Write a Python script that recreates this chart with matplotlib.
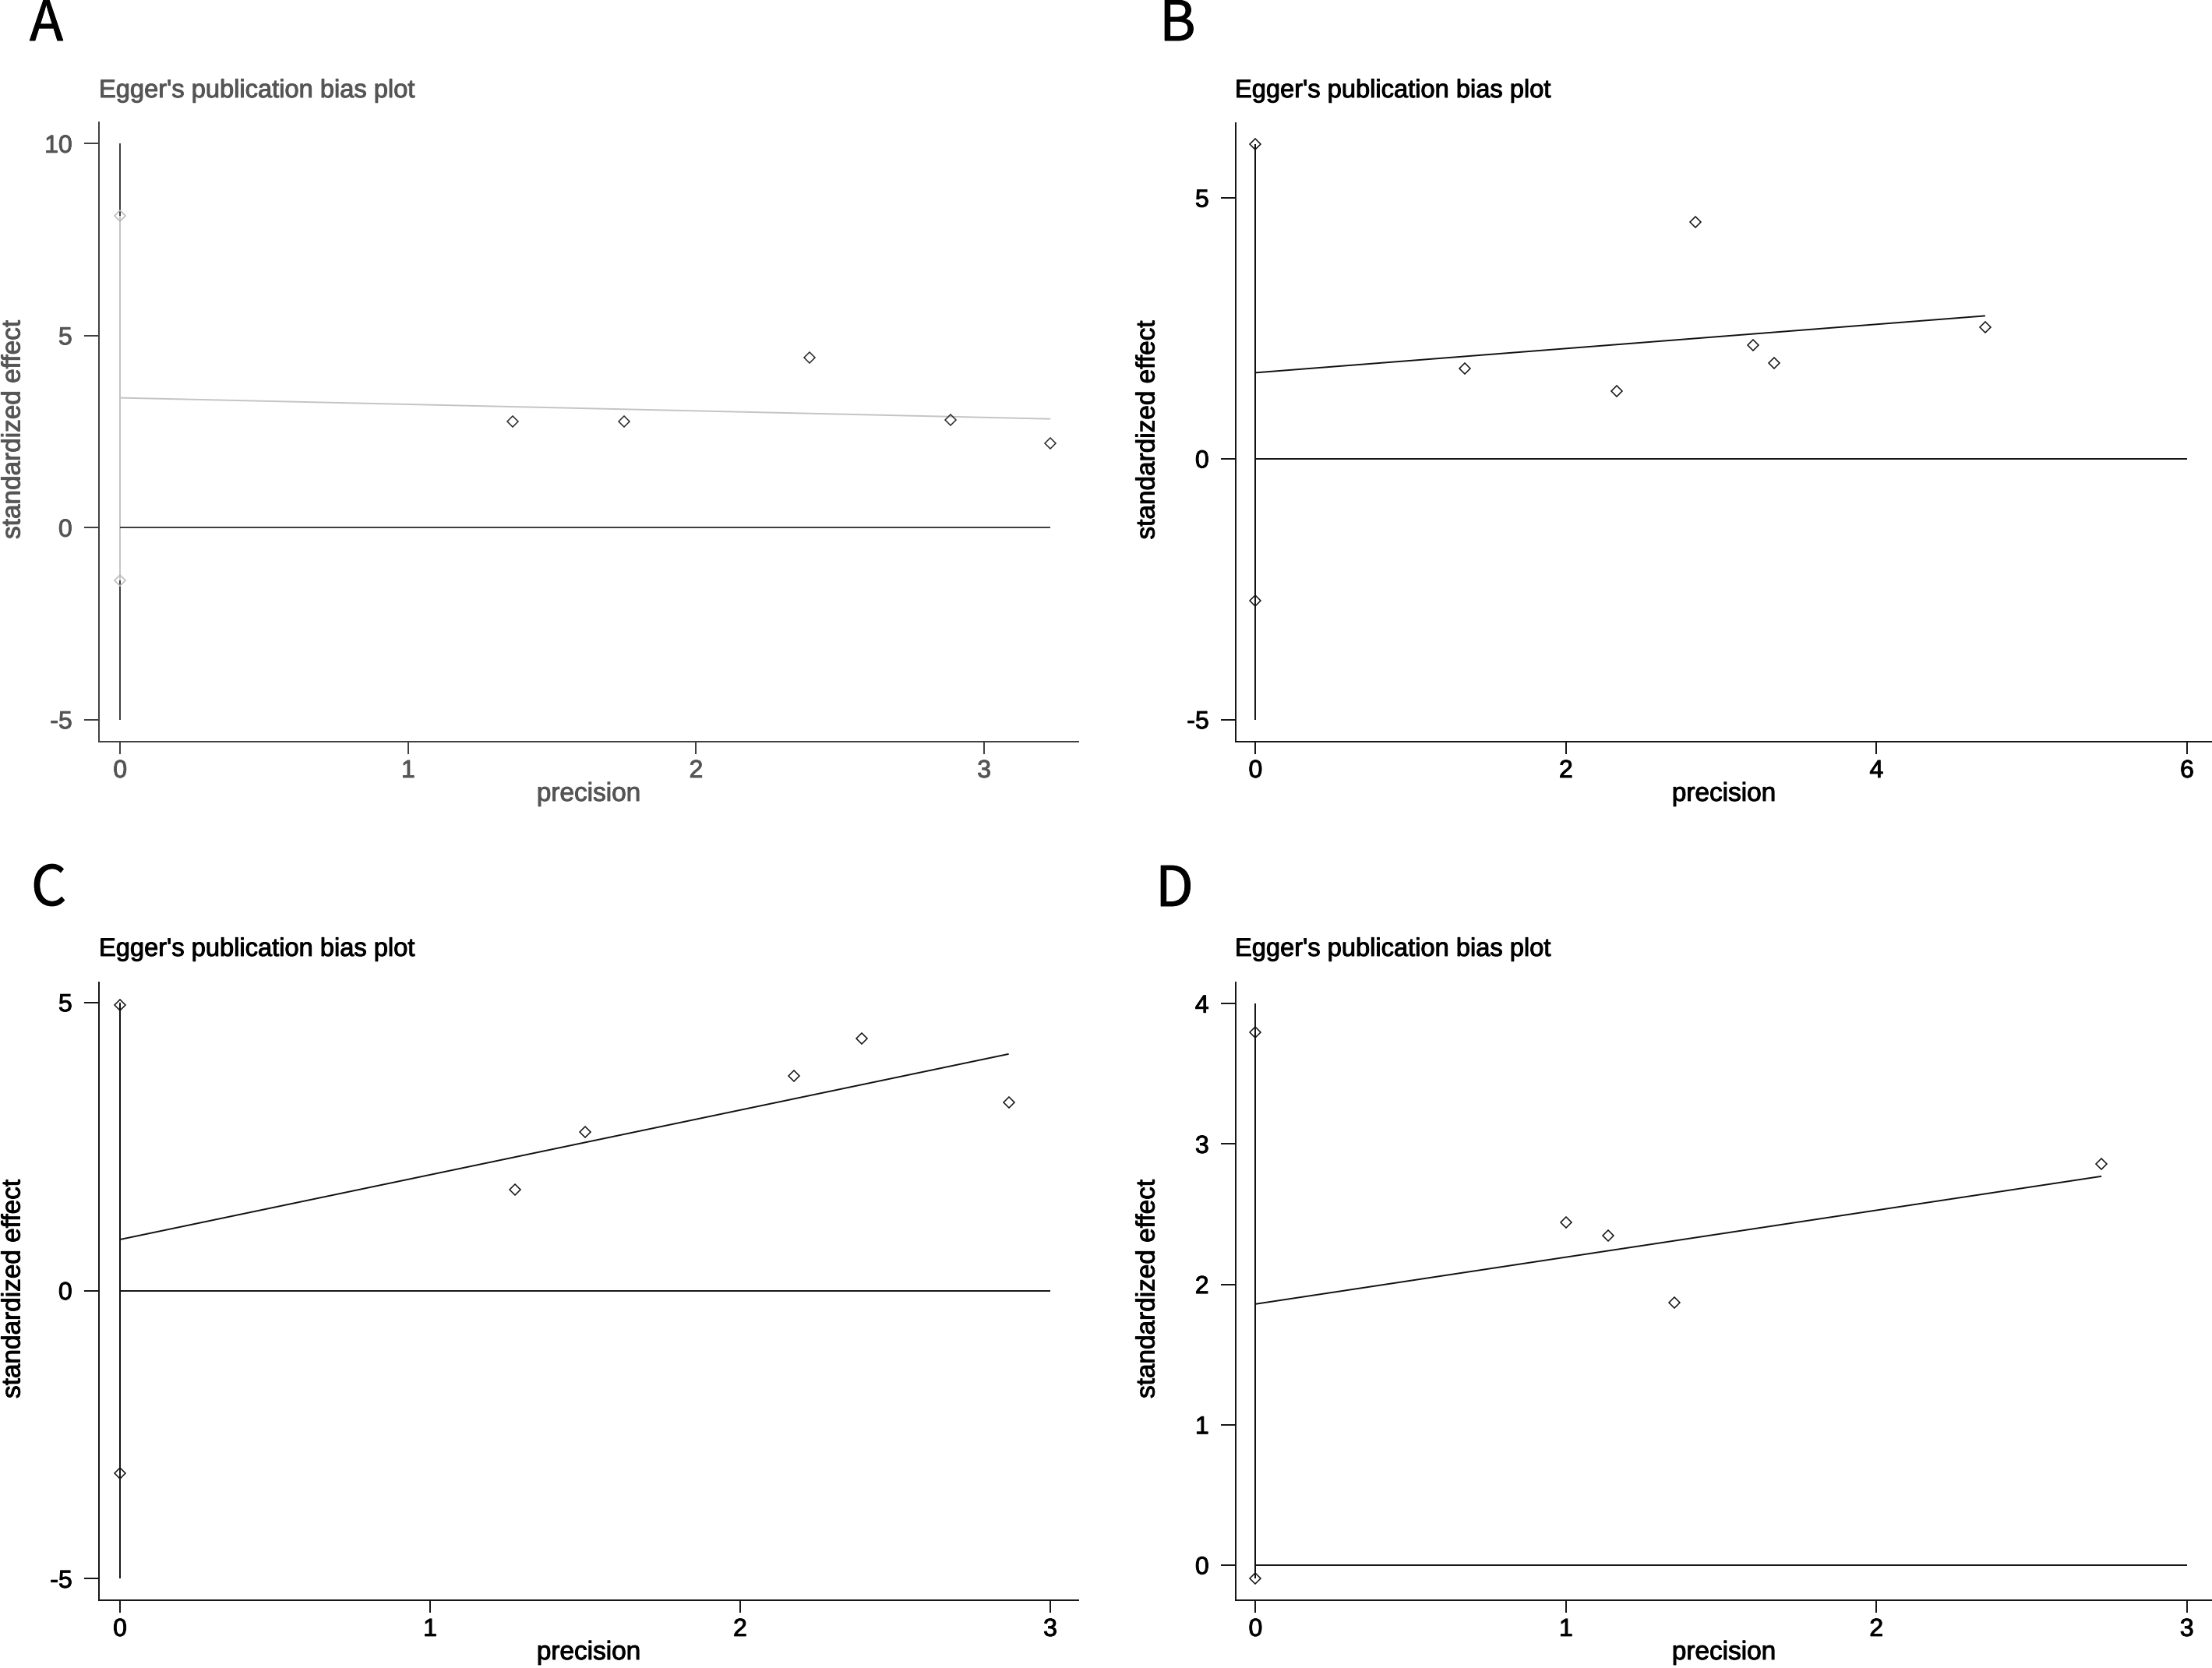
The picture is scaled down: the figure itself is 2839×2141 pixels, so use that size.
import matplotlib.pyplot as plt
import matplotlib.patheffects as pe

plt.rcParams["axes.unicode_minus"] = False

W, H = 2839, 2141
FONT = "Liberation Sans"

# ---- data ----
A_PREC = [1.363, 1.75, 2.395, 2.882, 3.23]
A_EFF = [2.76, 2.76, 4.42, 2.80, 2.20]
A_CI = [-1.38, 8.11]
A_FIT = [3.38, 2.83]
A_XTICKS = [0, 1, 2, 3]
A_YTICKS = [-5, 0, 5, 10]

B_PREC = [1.349, 2.325, 2.834, 3.206, 3.338, 4.70]
B_EFF = [1.73, 1.29, 4.54, 2.18, 1.83, 2.52]
B_CI = [-2.72, 6.03]
B_FIT = [1.65, 2.74]
B_XTICKS = [0, 2, 4, 6]
B_YTICKS = [-5, 0, 5]

C_PREC = [1.273, 1.50, 2.173, 2.393, 2.866]
C_EFF = [1.75, 2.75, 3.72, 4.38, 3.26]
C_CI = [-3.17, 4.96]
C_FIT = [0.886, 4.105]
C_XTICKS = [0, 1, 2, 3]
C_YTICKS = [-5, 0, 5]

D_PREC = [1.0, 1.136, 1.349, 2.725]
D_EFF = [2.44, 2.35, 1.87, 2.86]
D_CI = [-0.095, 3.795]
D_FIT = [1.86, 2.77]
D_XTICKS = [0, 1, 2, 3]
D_YTICKS = [0, 1, 2, 3, 4]

TITLE = "Egger's publication bias plot"
XLABEL = "precision"
YLABEL = "standardized effect"

# panel layout in pixels: (left, top, right, bottom) of the axis lines
PANELS = [
    dict(letter="A", prec=A_PREC, eff=A_EFF, ci=A_CI, fit=A_FIT,
         xticks=A_XTICKS, yticks=A_YTICKS, box=(127, 157, 1384, 952),
         xlim=(-0.0736, 3.327), ylim=(-5.575, 10.554), faded=True,
         letter_xy=(38, 52), title_xy=(127, 125), ylab_x=17),
    dict(letter="B", prec=B_PREC, eff=B_EFF, ci=B_CI, fit=B_FIT,
         xticks=B_XTICKS, yticks=B_YTICKS, box=(1586, 158, 2839, 952),
         xlim=(-0.1275, 6.161), ylim=(-5.424, 6.435), faded=False,
         letter_xy=(1488, 52), title_xy=(1585, 125), ylab_x=1473),
    dict(letter="C", prec=C_PREC, eff=C_EFF, ci=C_CI, fit=C_FIT,
         xticks=C_XTICKS, yticks=C_YTICKS, box=(127, 1261, 1384, 2054),
         xlim=(-0.0679, 3.0905), ylim=(-5.373, 5.347), faded=False,
         letter_xy=(40, 1162), title_xy=(127, 1227), ylab_x=17),
    dict(letter="D", prec=D_PREC, eff=D_EFF, ci=D_CI, fit=D_FIT,
         xticks=D_XTICKS, yticks=D_YTICKS, box=(1586, 1261, 2839, 2054),
         xlim=(-0.0638, 3.081), ylim=(-0.25, 4.151), faded=False,
         letter_xy=(1483, 1163), title_xy=(1585, 1227), ylab_x=1473),
]

LW = 1.4


def fx(px):
    return px / W


def fy(py):
    return 1 - py / H


def heavy(color):
    # the scanned figure has slightly heavier strokes than plain Arial
    return [pe.withStroke(linewidth=0.7, foreground=color)]


def draw_panel(fig, p):
    L, T, R, B = p["box"]
    ax = fig.add_axes([fx(L), fy(B), (R - L) / W, (B - T) / H])
    ax.set_xlim(p["xlim"])
    ax.set_ylim(p["ylim"])

    if p["faded"]:
        txt_c, axis_c, line_c = "#555555", "#3c3c3c", "#3a3a3a"
        fit_c, ci_c, ci_mk, pt_mk = "#c4c4c4", "#c8c8c8", "#b8b8b8", "#2a2a2a"
    else:
        txt_c, axis_c, line_c = "#000000", "#111111", "#111111"
        fit_c, ci_c, ci_mk, pt_mk = "#111111", "#111111", "#111111", "#111111"

    for side in ("top", "right"):
        ax.spines[side].set_visible(False)
    for side in ("left", "bottom"):
        ax.spines[side].set_color(axis_c)
        ax.spines[side].set_linewidth(LW)

    ax.set_xticks(p["xticks"])
    ax.set_yticks(p["yticks"])
    ax.tick_params(axis="x", direction="out", length=11.5, width=LW, pad=5,
                   color=axis_c, labelcolor=txt_c, labelsize=23)
    ax.tick_params(axis="y", direction="out", length=13.7, width=LW, pad=11,
                   color=axis_c, labelcolor=txt_c, labelsize=23)
    for lab in ax.get_xticklabels() + ax.get_yticklabels():
        lab.set_fontfamily(FONT)
        lab.set_path_effects(heavy(txt_c))

    prec, eff, ci, fit = p["prec"], p["eff"], p["ci"], p["fit"]
    x_end = max(max(p["xticks"]), max(prec))
    v_lo = min(min(p["yticks"]), ci[0])
    v_hi = max(max(p["yticks"]), ci[1])

    ax.plot([0, 0], [v_lo, v_hi], color=line_c, lw=LW, solid_capstyle="butt")
    ax.plot([0, 0], ci, color=ci_c, lw=LW, solid_capstyle="butt")
    ax.plot([0, x_end], [0, 0], color=line_c, lw=LW, solid_capstyle="butt")
    ax.plot([0, max(prec)], fit, color=fit_c, lw=LW, solid_capstyle="butt")
    ax.plot([0, 0], ci, ls="none", marker="D", ms=7.5, mfc="none",
            mec=ci_mk, mew=1.1, clip_on=False)
    ax.plot(prec, eff, ls="none", marker="D", ms=7.5, mfc="none",
            mec=pt_mk, mew=1.1, clip_on=False)

    # texts placed in figure pixels
    tx, ty = p["title_xy"]
    fig.text(fx(tx), fy(ty), TITLE, family=FONT, fontsize=23.5,
             color=txt_c, ha="left", va="baseline", path_effects=heavy(txt_c))
    fig.text(fx((L + R) / 2), fy(B + 76), XLABEL, family=FONT, fontsize=24,
             color=txt_c, ha="center", va="baseline", path_effects=heavy(txt_c))
    fig.text(fx(p["ylab_x"]), fy((T + B) / 2 - 3), YLABEL, family=FONT,
             fontsize=24, color=txt_c, rotation=90, ha="center", va="center",
             path_effects=heavy(txt_c))
    lx, ly = p["letter_xy"]
    fig.text(fx(lx), fy(ly), p["letter"], family=["Noto Sans CJK SC", "DejaVu Sans"],
             fontsize=51, color="black", ha="left", va="baseline",
             path_effects=heavy("black"))


fig = plt.figure(figsize=(W / 100, H / 100), dpi=100, facecolor="white")
for panel in PANELS:
    draw_panel(fig, panel)

fig.savefig("out.png", dpi=100, facecolor="white")
